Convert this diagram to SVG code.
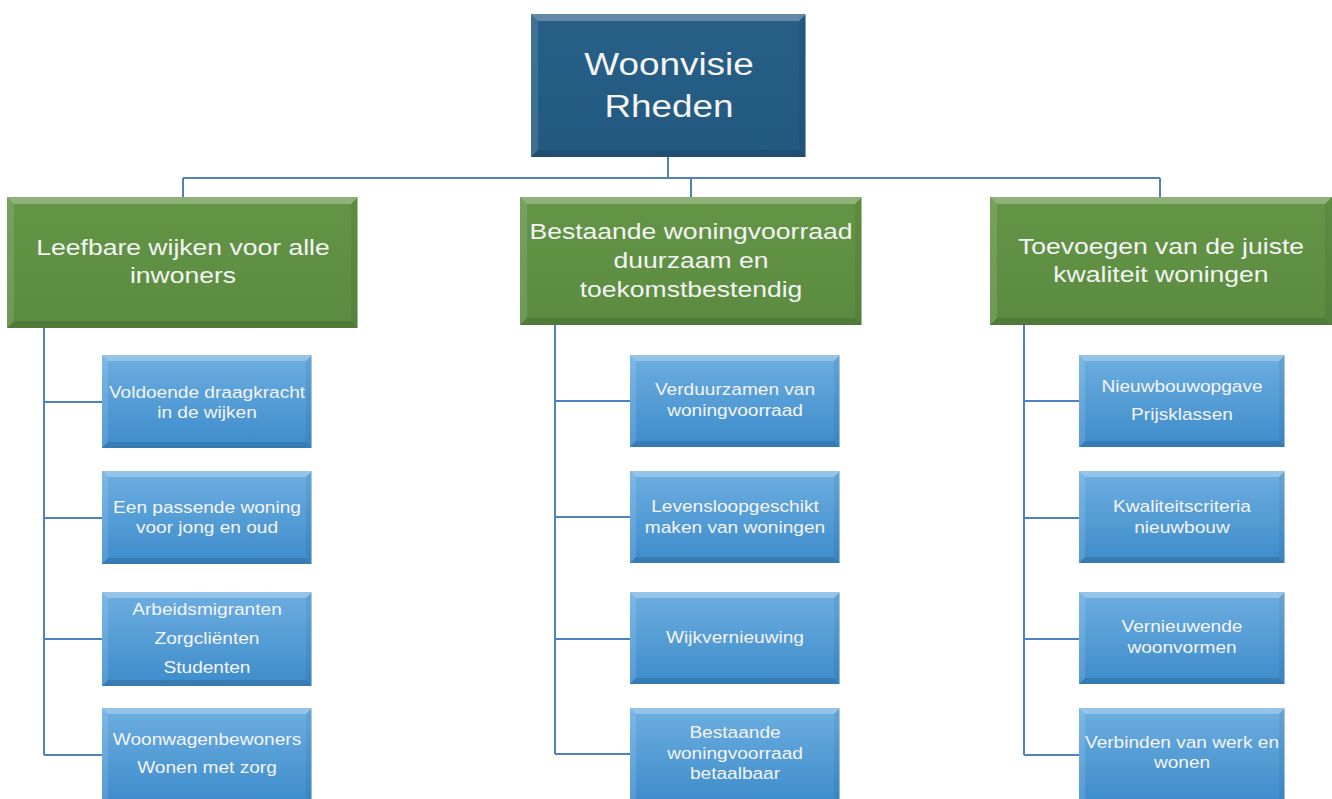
<svg xmlns="http://www.w3.org/2000/svg" width="1332" height="799" viewBox="0 0 1332 799">
<defs>
<linearGradient id="gBlue" x1="0" y1="0" x2="0" y2="1">
<stop offset="0" stop-color="#6DAEE0"/>
<stop offset="1" stop-color="#3D8CCB"/>
</linearGradient>
<linearGradient id="gGreen" x1="0" y1="0" x2="0" y2="1">
<stop offset="0" stop-color="#649546"/>
<stop offset="1" stop-color="#5A8B40"/>
</linearGradient>
<linearGradient id="gRoot" x1="0" y1="0" x2="0" y2="1">
<stop offset="0" stop-color="#275F87"/>
<stop offset="1" stop-color="#235981"/>
</linearGradient>
</defs>
<style>
.conn{fill:none;stroke:#4F81BD;stroke-width:2}
.hi{fill:#FFFFFF;fill-opacity:0.28}
.lf{fill:#FFFFFF;fill-opacity:0.12}
.dk{fill:#000000;fill-opacity:0.12}
.rt{fill:#000000;fill-opacity:0.06}
.edge{stroke:#FFFFFF;stroke-opacity:0.6;stroke-width:1.5}
.t{font-family:"Liberation Sans",Arial,sans-serif;fill:#F4F4F4;text-anchor:middle;transform-box:fill-box;transform-origin:center}
.tr{font-size:31px;transform:scaleX(1.19)}
.tg{font-size:22.3px;transform:scaleX(1.19)}
.tb{font-size:17.2px;transform:scaleX(1.11)}
</style>
<rect width="1332" height="799" fill="#FFFFFF"/>
<g id="connectors">
<path class="conn" d="M668,157 V178 M183,178 H1160 M183,178 V197 M691,178 V197 M1160,178 V197"/>
<path class="conn" d="M44,328 V755 M44,402 H102 M44,518 H102 M44,639 H102 M44,755 H102"/>
<path class="conn" d="M555,325 V754 M555,401 H630 M555,517 H630 M555,639 H630 M555,754 H630"/>
<path class="conn" d="M1024,325 V755 M1024,401 H1079 M1024,518 H1079 M1024,639 H1079 M1024,755 H1079"/>
</g>
<g id="root">
<rect x="531" y="14" width="275" height="143" fill="url(#gRoot)"/>
<path class="hi" d="M531,14 H806 L799,21 H538 Z"/>
<path class="lf" d="M531,14 L538,21 V150 L531,157 Z"/>
<path class="dk" d="M531,157 H806 L799,150 H538 Z"/>
<path class="rt" d="M806,14 V157 L799,150 V21 Z"/>
<line class="edge" x1="806" y1="14" x2="806" y2="157"/>
<text class="t tr" x="669" y="75">Woonvisie</text>
<text class="t tr" x="669" y="117">Rheden</text>
</g>
<g id="h1">
<rect x="7" y="197" width="351" height="131" fill="url(#gGreen)"/>
<path class="hi" d="M7,197 H358 L351,204 H14 Z"/>
<path class="lf" d="M7,197 L14,204 V321 L7,328 Z"/>
<path class="dk" d="M7,328 H358 L351,321 H14 Z"/>
<path class="rt" d="M358,197 V328 L351,321 V204 Z"/>
<line class="edge" x1="358" y1="197" x2="358" y2="328"/>
<text class="t tg" x="183" y="255">Leefbare wijken voor alle</text>
<text class="t tg" x="183" y="283">inwoners</text>
</g>
<g id="h2">
<rect x="520" y="197" width="342" height="128" fill="url(#gGreen)"/>
<path class="hi" d="M520,197 H862 L855,204 H527 Z"/>
<path class="lf" d="M520,197 L527,204 V318 L520,325 Z"/>
<path class="dk" d="M520,325 H862 L855,318 H527 Z"/>
<path class="rt" d="M862,197 V325 L855,318 V204 Z"/>
<line class="edge" x1="862" y1="197" x2="862" y2="325"/>
<text class="t tg" x="691" y="239">Bestaande woningvoorraad</text>
<text class="t tg" x="691" y="268">duurzaam en</text>
<text class="t tg" x="691" y="297">toekomstbestendig</text>
</g>
<g id="h3">
<rect x="990" y="197" width="342" height="128" fill="url(#gGreen)"/>
<path class="hi" d="M990,197 H1332 L1325,204 H997 Z"/>
<path class="lf" d="M990,197 L997,204 V318 L990,325 Z"/>
<path class="dk" d="M990,325 H1332 L1325,318 H997 Z"/>
<path class="rt" d="M1332,197 V325 L1325,318 V204 Z"/>
<text class="t tg" x="1161" y="254">Toevoegen van de juiste</text>
<text class="t tg" x="1161" y="282">kwaliteit woningen</text>
</g>
<g id="l1">
<rect x="102" y="355" width="210" height="93" fill="url(#gBlue)"/>
<path class="hi" d="M102,355 H312 L306,361 H108 Z"/>
<path class="lf" d="M102,355 L108,361 V442 L102,448 Z"/>
<path class="dk" d="M102,448 H312 L306,442 H108 Z"/>
<path class="rt" d="M312,355 V448 L306,442 V361 Z"/>
<line class="edge" x1="312" y1="355" x2="312" y2="448"/>
<text class="t tb" x="207" y="398">Voldoende draagkracht</text>
<text class="t tb" x="207" y="418">in de wijken</text>
</g>
<g id="l2">
<rect x="102" y="471" width="210" height="93" fill="url(#gBlue)"/>
<path class="hi" d="M102,471 H312 L306,477 H108 Z"/>
<path class="lf" d="M102,471 L108,477 V558 L102,564 Z"/>
<path class="dk" d="M102,564 H312 L306,558 H108 Z"/>
<path class="rt" d="M312,471 V564 L306,558 V477 Z"/>
<line class="edge" x1="312" y1="471" x2="312" y2="564"/>
<text class="t tb" x="207" y="513">Een passende woning</text>
<text class="t tb" x="207" y="533">voor jong en oud</text>
</g>
<g id="l3">
<rect x="102" y="592" width="210" height="94" fill="url(#gBlue)"/>
<path class="hi" d="M102,592 H312 L306,598 H108 Z"/>
<path class="lf" d="M102,592 L108,598 V680 L102,686 Z"/>
<path class="dk" d="M102,686 H312 L306,680 H108 Z"/>
<path class="rt" d="M312,592 V686 L306,680 V598 Z"/>
<line class="edge" x1="312" y1="592" x2="312" y2="686"/>
<text class="t tb" x="207" y="615">Arbeidsmigranten</text>
<text class="t tb" x="207" y="644">Zorgcliënten</text>
<text class="t tb" x="207" y="673">Studenten</text>
</g>
<g id="l4">
<rect x="102" y="708" width="210" height="96" fill="url(#gBlue)"/>
<path class="hi" d="M102,708 H312 L306,714 H108 Z"/>
<path class="lf" d="M102,708 L108,714 V804 L102,804 Z"/>
<path class="rt" d="M312,708 V804 L306,804 V714 Z"/>
<line class="edge" x1="312" y1="708" x2="312" y2="804"/>
<text class="t tb" x="207" y="745">Woonwagenbewoners</text>
<text class="t tb" x="207" y="773">Wonen met zorg</text>
</g>
<g id="m1">
<rect x="630" y="355" width="210" height="92" fill="url(#gBlue)"/>
<path class="hi" d="M630,355 H840 L834,361 H636 Z"/>
<path class="lf" d="M630,355 L636,361 V441 L630,447 Z"/>
<path class="dk" d="M630,447 H840 L834,441 H636 Z"/>
<path class="rt" d="M840,355 V447 L834,441 V361 Z"/>
<line class="edge" x1="840" y1="355" x2="840" y2="447"/>
<text class="t tb" x="735" y="395">Verduurzamen van</text>
<text class="t tb" x="735" y="416">woningvoorraad</text>
</g>
<g id="m2">
<rect x="630" y="471" width="210" height="92" fill="url(#gBlue)"/>
<path class="hi" d="M630,471 H840 L834,477 H636 Z"/>
<path class="lf" d="M630,471 L636,477 V557 L630,563 Z"/>
<path class="dk" d="M630,563 H840 L834,557 H636 Z"/>
<path class="rt" d="M840,471 V563 L834,557 V477 Z"/>
<line class="edge" x1="840" y1="471" x2="840" y2="563"/>
<text class="t tb" x="735" y="512">Levensloopgeschikt</text>
<text class="t tb" x="735" y="533">maken van woningen</text>
</g>
<g id="m3">
<rect x="630" y="592" width="210" height="92" fill="url(#gBlue)"/>
<path class="hi" d="M630,592 H840 L834,598 H636 Z"/>
<path class="lf" d="M630,592 L636,598 V678 L630,684 Z"/>
<path class="dk" d="M630,684 H840 L834,678 H636 Z"/>
<path class="rt" d="M840,592 V684 L834,678 V598 Z"/>
<line class="edge" x1="840" y1="592" x2="840" y2="684"/>
<text class="t tb" x="735" y="643">Wijkvernieuwing</text>
</g>
<g id="m4">
<rect x="630" y="708" width="210" height="96" fill="url(#gBlue)"/>
<path class="hi" d="M630,708 H840 L834,714 H636 Z"/>
<path class="lf" d="M630,708 L636,714 V804 L630,804 Z"/>
<path class="rt" d="M840,708 V804 L834,804 V714 Z"/>
<line class="edge" x1="840" y1="708" x2="840" y2="804"/>
<text class="t tb" x="735" y="738">Bestaande</text>
<text class="t tb" x="735" y="759">woningvoorraad</text>
<text class="t tb" x="735" y="779">betaalbaar</text>
</g>
<g id="r1">
<rect x="1079" y="355" width="206" height="92" fill="url(#gBlue)"/>
<path class="hi" d="M1079,355 H1285 L1279,361 H1085 Z"/>
<path class="lf" d="M1079,355 L1085,361 V441 L1079,447 Z"/>
<path class="dk" d="M1079,447 H1285 L1279,441 H1085 Z"/>
<path class="rt" d="M1285,355 V447 L1279,441 V361 Z"/>
<line class="edge" x1="1285" y1="355" x2="1285" y2="447"/>
<text class="t tb" x="1182" y="392">Nieuwbouwopgave</text>
<text class="t tb" x="1182" y="420">Prijsklassen</text>
</g>
<g id="r2">
<rect x="1079" y="471" width="206" height="92" fill="url(#gBlue)"/>
<path class="hi" d="M1079,471 H1285 L1279,477 H1085 Z"/>
<path class="lf" d="M1079,471 L1085,477 V557 L1079,563 Z"/>
<path class="dk" d="M1079,563 H1285 L1279,557 H1085 Z"/>
<path class="rt" d="M1285,471 V563 L1279,557 V477 Z"/>
<line class="edge" x1="1285" y1="471" x2="1285" y2="563"/>
<text class="t tb" x="1182" y="512">Kwaliteitscriteria</text>
<text class="t tb" x="1182" y="533">nieuwbouw</text>
</g>
<g id="r3">
<rect x="1079" y="592" width="206" height="92" fill="url(#gBlue)"/>
<path class="hi" d="M1079,592 H1285 L1279,598 H1085 Z"/>
<path class="lf" d="M1079,592 L1085,598 V678 L1079,684 Z"/>
<path class="dk" d="M1079,684 H1285 L1279,678 H1085 Z"/>
<path class="rt" d="M1285,592 V684 L1279,678 V598 Z"/>
<line class="edge" x1="1285" y1="592" x2="1285" y2="684"/>
<text class="t tb" x="1182" y="632">Vernieuwende</text>
<text class="t tb" x="1182" y="653">woonvormen</text>
</g>
<g id="r4">
<rect x="1079" y="708" width="206" height="96" fill="url(#gBlue)"/>
<path class="hi" d="M1079,708 H1285 L1279,714 H1085 Z"/>
<path class="lf" d="M1079,708 L1085,714 V804 L1079,804 Z"/>
<path class="rt" d="M1285,708 V804 L1279,804 V714 Z"/>
<line class="edge" x1="1285" y1="708" x2="1285" y2="804"/>
<text class="t tb" x="1182" y="748">Verbinden van werk en</text>
<text class="t tb" x="1182" y="768">wonen</text>
</g>
</svg>
